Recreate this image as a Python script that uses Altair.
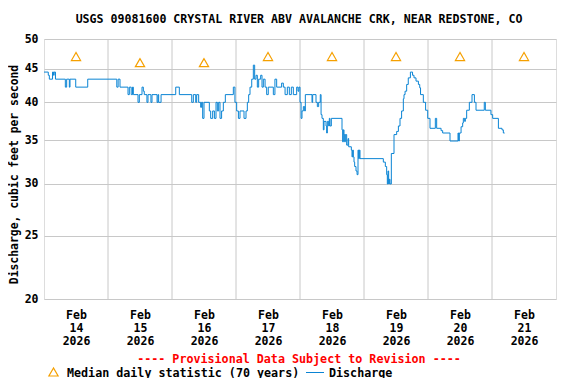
import altair as alt
import pandas as pd

TITLE = "USGS 09081600 CRYSTAL RIVER ABV AVALANCHE CRK, NEAR REDSTONE, CO"
Y_TITLE = "Discharge, cubic feet per second"
PROVISIONAL = "---- Provisional Data Subject to Revision ----"
LEG_MEDIAN = "Median daily statistic (70 years)"
LEG_Q = "Discharge"
START = "2026-02-14"

# Discharge (cfs), step changes: hours after Feb 14 00:00 and value
hours = [
    0.0, 1.6, 2.0, 3.2, 3.6, 3.8, 4.3, 8.0, 8.5, 9.5, 9.75, 11.9, 16.4, 27.3, 27.8, 28.5,
    31.5, 32.0, 32.7, 33.2, 33.5, 35.25, 35.75, 36.75, 37.25, 37.6, 38.6, 39.0, 40.1, 40.5,
    42.4, 42.75, 43.0, 43.9, 49.4, 50.75,
    55.4, 56.0, 56.9, 57.25, 58.0, 58.75, 59.1, 59.5, 60.0, 62.0, 62.5, 63.25, 63.9, 64.5,
    65.0, 65.5, 66.0, 66.6, 67.25, 68.0, 71.0, 71.6, 72.25, 72.9, 73.5, 75.0, 75.75, 76.25,
    76.75, 77.25, 77.9, 78.5, 79.0, 79.5, 80.0, 80.5, 81.25, 81.75, 82.25, 82.9, 83.5, 84.1,
    86.0, 86.6, 87.25, 89.1, 89.75, 90.4, 91.25, 92.0, 92.75, 93.5, 94.75,
    95.25, 95.6, 96.0, 96.4, 96.75, 97.25, 97.75, 98.0, 100.5, 100.75, 102.0, 102.5, 103.0,
    103.6, 103.9, 104.25, 104.75, 105.0, 105.75, 106.0, 106.25, 106.75, 107.0, 107.25, 107.75,
    111.75, 112.0, 112.25, 112.5, 112.75, 113.0, 113.5, 114.0, 114.25, 115.25, 115.5, 115.75,
    116.0, 116.25, 116.5, 117.0, 117.4, 117.75, 118.0, 118.25, 118.5, 127.25, 128.0, 128.5,
    128.75, 129.0, 129.25, 129.5, 129.75, 130.25, 131.25, 132.25, 132.9, 133.5, 134.1, 134.75,
    135.0, 135.4, 136.0, 136.6, 137.4, 138.2, 138.75, 139.5, 140.4, 140.9, 141.2, 142.25,
    143.1, 143.9, 144.75, 146.75, 147.25, 148.9, 149.5, 152.25, 155.25, 155.5, 155.75, 156.4,
    157.0, 157.25, 157.75, 158.0, 158.5, 159.5, 160.5, 161.4, 162.0, 165.1, 165.5, 167.6,
    168.25, 170.4, 171.75, 172.25, 172.75,
]
cfs = [
    44.5, 44.0, 43.4, 44.5, 44.0, 44.5, 43.4, 42.2, 43.4, 42.2, 43.4, 42.2, 43.4, 42.2, 43.4, 42.2,
    41.1, 42.2, 41.1, 42.2, 41.1, 40.0, 41.1, 42.2, 41.6, 41.1, 40.0, 41.1, 40.0, 41.1,
    40.0, 41.1, 40.0, 41.1, 42.2, 41.1,
    40.0, 41.1, 40.0, 41.1, 40.0, 39.3, 40.0, 37.8, 40.0, 38.8, 37.8, 38.8, 37.8, 40.0,
    38.8, 40.0, 37.8, 38.8, 40.0, 41.1, 42.2, 40.0, 38.8, 37.8, 38.8, 37.8, 38.8, 40.0,
    41.1, 42.2, 43.4, 45.6, 43.4, 44.0, 42.2, 43.4, 44.0, 42.2, 43.4, 42.2, 41.1, 42.2,
    41.1, 43.4, 42.2, 42.8, 42.2, 41.1, 42.2, 41.1, 42.2, 41.1, 42.2,
    41.6, 42.2, 40.0, 37.8, 38.8, 39.4, 38.8, 41.1, 40.0, 41.1, 40.0, 39.4, 40.0,
    41.1, 38.3, 37.8, 36.3, 37.4, 36.8, 35.9, 37.4, 36.8, 37.8, 36.8, 37.8,
    36.3, 34.8, 36.3, 35.7, 34.8, 35.7, 34.4, 35.2, 34.2, 33.8, 33.0, 33.8,
    33.0, 32.4, 31.9, 31.4, 31.0, 33.8, 32.8, 33.8, 32.8, 32.4, 31.9, 31.0,
    30.0, 31.4, 30.0, 30.5, 30.0, 33.4, 35.7, 36.1, 36.8, 37.8, 38.8, 40.5,
    41.1, 41.6, 42.6, 43.6, 44.5, 44.0, 43.6, 43.1, 42.6, 42.1, 41.1, 40.0,
    38.9, 37.8, 36.5, 37.8, 36.5, 36.2, 35.9, 34.9, 35.9, 34.9, 35.9, 36.7,
    37.2, 37.8, 37.4, 37.8, 38.9, 40.0, 41.1, 40.0, 38.9, 40.0, 38.9, 38.3,
    37.8, 36.5, 36.3, 35.9, 35.9,
]

median_time = ["2026-02-14T12:00:00", "2026-02-15T12:00:00", "2026-02-16T12:00:00",
               "2026-02-17T12:00:00", "2026-02-18T12:00:00", "2026-02-19T12:00:00",
               "2026-02-20T12:00:00", "2026-02-21T12:00:00"]
median_cfs = [47, 46, 46, 47, 47, 47, 47, 47]

grid_time = ["2026-02-15T00:00:00", "2026-02-16T00:00:00", "2026-02-17T00:00:00",
             "2026-02-18T00:00:00", "2026-02-19T00:00:00", "2026-02-20T00:00:00",
             "2026-02-21T00:00:00"]
label_days = [14, 15, 16, 17, 18, 19, 20, 21]
y_ticks = [20, 25, 30, 35, 40, 45, 50]

FONT = "DejaVu Sans Mono"
BLUE = "#0a84d4"
ORANGE = "#f5a000"
GRID = "#c8c8c8"

q_df = pd.DataFrame({
    "time": [pd.Timestamp(START) + pd.Timedelta(hours=h) for h in hours],
    "cfs": cfs,
})
med_df = pd.DataFrame({"time": pd.to_datetime(median_time), "cfs": median_cfs})
grid_df = pd.DataFrame({"time": pd.to_datetime(grid_time)})

x_enc = alt.X(
    "time:T",
    scale=alt.Scale(domain=[alt.DateTime(year=2026, month=2, date=14),
                            alt.DateTime(year=2026, month=2, date=22)], nice=False),
    axis=alt.Axis(
        values=[alt.DateTime(year=2026, month=2, date=d, hours=12) for d in label_days],
        labelExpr="[timeFormat(datum.value, '%b'), timeFormat(datum.value, '%d'), timeFormat(datum.value, '%Y')]",
        grid=False, ticks=False, domain=False, title=None,
        labelFont=FONT, labelFontSize=11.5, labelFontWeight="bold", labelColor="black",
        labelLineHeight=13.3, labelPadding=10, labelOverlap=False, labelFlush=False,
        labelBound=False, labelAlign="center", labelBaseline="top",
    ),
)
y_enc = alt.Y(
    "cfs:Q",
    scale=alt.Scale(type="log", domain=[20, 50], nice=False, zero=False),
    axis=alt.Axis(
        values=y_ticks, grid=True, gridColor=GRID, gridWidth=1, ticks=False, domain=False,
        title=Y_TITLE, titleFont=FONT, titleFontSize=11.4, titleFontWeight="bold",
        titleColor="black", titleX=-30, titleY=135, titleAngle=270, titleBaseline="middle",
        titleAlign="center",
        labelFont=FONT, labelFontSize=11.5, labelFontWeight="bold", labelColor="black",
        labelPadding=6, labelOverlap=False, labelFlush=False,
    ),
)

grid = alt.Chart(grid_df).mark_rule(color=GRID, strokeWidth=1).encode(x=x_enc)
line = alt.Chart(q_df).mark_line(interpolate="step-after", color=BLUE, strokeWidth=1).encode(
    x=x_enc, y=y_enc)
med = alt.Chart(med_df).mark_point(shape="triangle-up", filled=False, color=ORANGE,
                                   size=85, strokeWidth=1.2, opacity=1).encode(x=x_enc, y=y_enc)


def text_layer(txt, x, y, color="black", size=11.5, align="center"):
    return alt.Chart(pd.DataFrame({"label": [txt]})).mark_text(
        font=FONT, fontSize=size, fontWeight="bold", color=color, align=align,
        baseline="middle").encode(x=alt.value(x), y=alt.value(y), text="label:N")


title_t = text_layer(TITLE, 255, -19, size=11.6)
prov_t = text_layer(PROVISIONAL, 255, 319.5, color="#ff0000", size=11.7)
leg_med_t = text_layer(LEG_MEDIAN, 23, 333.5, size=11.7, align="left")
leg_q_t = text_layer(LEG_Q, 285, 333.5, size=11.7, align="left")
leg_tri = alt.Chart(pd.DataFrame({"k": ["m"]})).mark_point(
    shape="triangle-up", filled=False, color=ORANGE, size=85, strokeWidth=1.2, opacity=1
).encode(x=alt.value(9.5), y=alt.value(333))
leg_line = alt.Chart(pd.DataFrame({"k": ["q"]})).mark_rule(color=BLUE, strokeWidth=1).encode(
    x=alt.value(262), x2=alt.value(280), y=alt.value(333.5))

chart = alt.layer(grid, line, med, title_t, prov_t, leg_tri, leg_med_t, leg_line, leg_q_t).properties(
    width=512, height=260,
    autosize=alt.AutoSizeParams(type="none"),
    padding={"left": 36, "top": 31, "right": 4, "bottom": 79},
).configure_view(stroke="black", strokeWidth=2).configure(background="white")

chart.save("out.html", embed_options={"renderer": "svg", "actions": False})
